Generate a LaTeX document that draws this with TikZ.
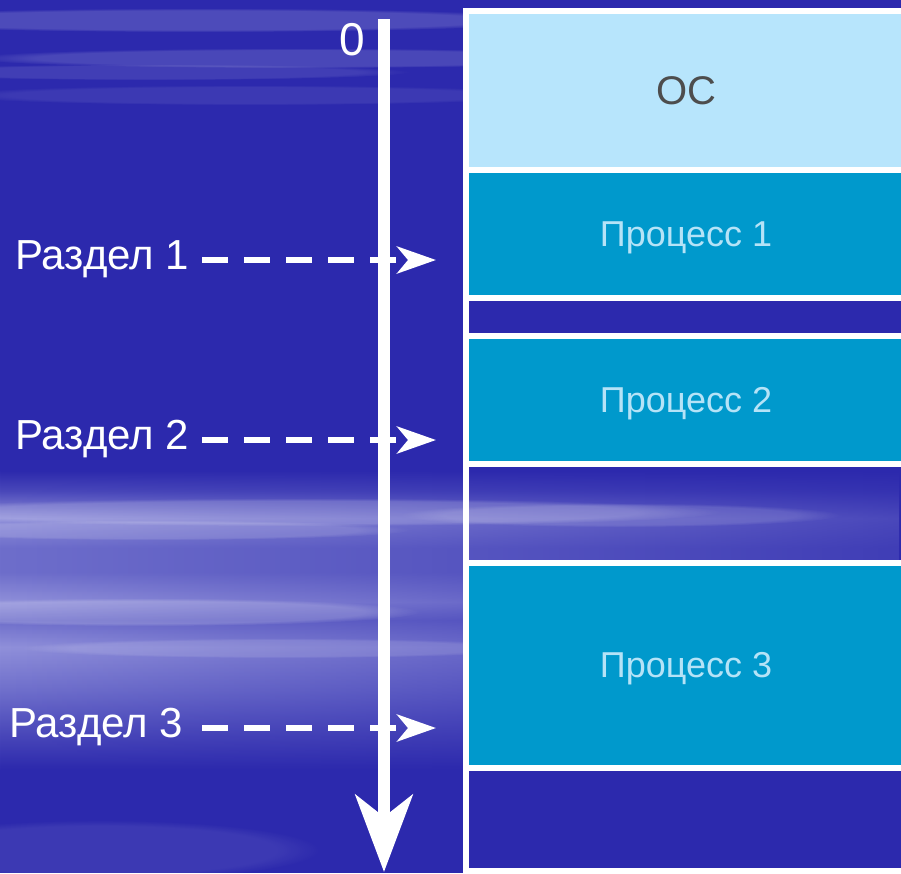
\documentclass[tikz,border=0pt]{standalone}
\usepackage{fontspec}
\setmainfont{Liberation Sans}
\usetikzlibrary{arrows.meta,fadings}

\definecolor{bgblue}{HTML}{2C29AD}
\definecolor{cloudA}{HTML}{9090DA}
\definecolor{cloudB}{HTML}{6E6ECB}
\definecolor{cloudC}{HTML}{4A48BA}
\definecolor{oscol}{HTML}{B7E5FC}
\definecolor{proccol}{HTML}{0099CC}
\definecolor{proctext}{HTML}{B5E3F7}
\definecolor{ostext}{HTML}{4D4D4D}

% broad cloud band across the lower middle of the sky
% (TikZ fits the 25bp--75bp part of a shading to the path)
\pgfdeclareverticalshading{cloudband}{100bp}{
  color(0bp)=(bgblue); color(25bp)=(bgblue); color(31bp)=(cloudC); color(38bp)=(cloudB);
  color(45.5bp)=(cloudA); color(50bp)=(cloudB); color(53bp)=(cloudA);
  color(58bp)=(cloudB); color(62bp)=(cloudB); color(67bp)=(cloudA);
  color(71.5bp)=(cloudC); color(75bp)=(bgblue); color(100bp)=(bgblue)}
\tikzfading[name=cloudfade, left color=transparent!0, middle color=transparent!15,
            right color=transparent!70]

\tikzset{
  cell/.style={rectangle, draw=white, line width=6pt, inner sep=0pt, outer sep=0pt,
               minimum width=440pt, anchor=north west},
  proc/.style={cell, fill=proccol, text=proctext, text depth=0pt,
               font=\fontsize{36}{40}\selectfont},
  gapcell/.style={cell},
  parttext/.style={text=white, inner sep=0pt, anchor=base west, font=\fontsize{42}{48}\selectfont},
  dasharrow/.style={white, line width=6pt, dash pattern=on 26pt off 16pt,
                    -{Stealth[length=39pt, width=27pt, inset=11pt]}},
  streak/.style={fill=white, path fading=circle with fuzzy edge 20 percent},
}

\begin{document}
\begin{tikzpicture}[x=1pt, y=-1pt]
  \useasboundingbox (0,0) rectangle (901,873);
  \clip (0,0) rectangle (901,873);

  % sky background with soft cloud streaks
  \fill[bgblue] (0,0) rectangle (901,873);
  \shade[shading=cloudband, path fading=cloudfade] (0,470) rectangle (901,770);
  \fill[streak, fill opacity=0.16] (200,20) ellipse [x radius=360, y radius=12];
  \fill[streak, fill opacity=0.14] (300,58) ellipse [x radius=330, y radius=10];
  \fill[streak, fill opacity=0.10] (150,72) ellipse [x radius=260, y radius=8];
  \fill[streak, fill opacity=0.08] (250,95) ellipse [x radius=300, y radius=10];
  \fill[streak, fill opacity=0.16] (300,512) ellipse [x radius=420, y radius=14];
  \fill[streak, fill opacity=0.14] (150,530) ellipse [x radius=260, y radius=10];
  \fill[streak, fill opacity=0.18] (140,612) ellipse [x radius=280, y radius=14];
  \fill[streak, fill opacity=0.12] (280,648) ellipse [x radius=260, y radius=10];
  \fill[streak, fill opacity=0.12] (620,515) ellipse [x radius=220, y radius=12];
  \fill[streak, fill opacity=0.08] (100,850) ellipse [x radius=220, y radius=30];

  % memory column
  \node[cell, fill=oscol, text=ostext, font=\fontsize{40}{44}\selectfont,
        minimum height=158.5pt] (os) at (466,11) {ОС};
  \node[proc, minimum height=128.5pt] (p1) at (466,169.5) {Процесс 1};
  \node[gapcell, minimum height=38pt] (g1) at (466,298) {};
  \node[proc, minimum height=128pt] (p2) at (466,336) {Процесс 2};
  \node[gapcell, minimum height=98.5pt] (g2) at (466,464) {};
  \node[proc, minimum height=205.5pt] (p3) at (466,562.5) {Процесс 3};
  \node[gapcell, minimum height=103pt] (g3) at (466,768) {};

  % address axis
  \coordinate (axtop) at (384,19);
  \coordinate (axbot) at (384,872);
  \draw[white, line width=12pt, -{Stealth[length=77pt, width=57pt, inset=22pt]}] (axtop) -- (axbot);
  \node[text=white, inner sep=0pt, font=\fontsize{46}{50}\selectfont] (zero) at (352.5,40) {0};

  % partition boundaries
  \node[parttext] (r1) at (15,269) {Раздел 1};
  \node[parttext] (r2) at (15,449) {Раздел 2};
  \node[parttext] (r3) at (9,737) {Раздел 3};
  \coordinate (r1s) at (202,260);
  \coordinate (r2s) at (202,440);
  \coordinate (r3s) at (202,728);
  \coordinate (r1e) at (436,260);
  \coordinate (r2e) at (436,440);
  \coordinate (r3e) at (436,728);
  \draw[dasharrow] (r1s) -- (r1e);
  \draw[dasharrow] (r2s) -- (r2e);
  \draw[dasharrow] (r3s) -- (r3e);
\end{tikzpicture}
\end{document}
